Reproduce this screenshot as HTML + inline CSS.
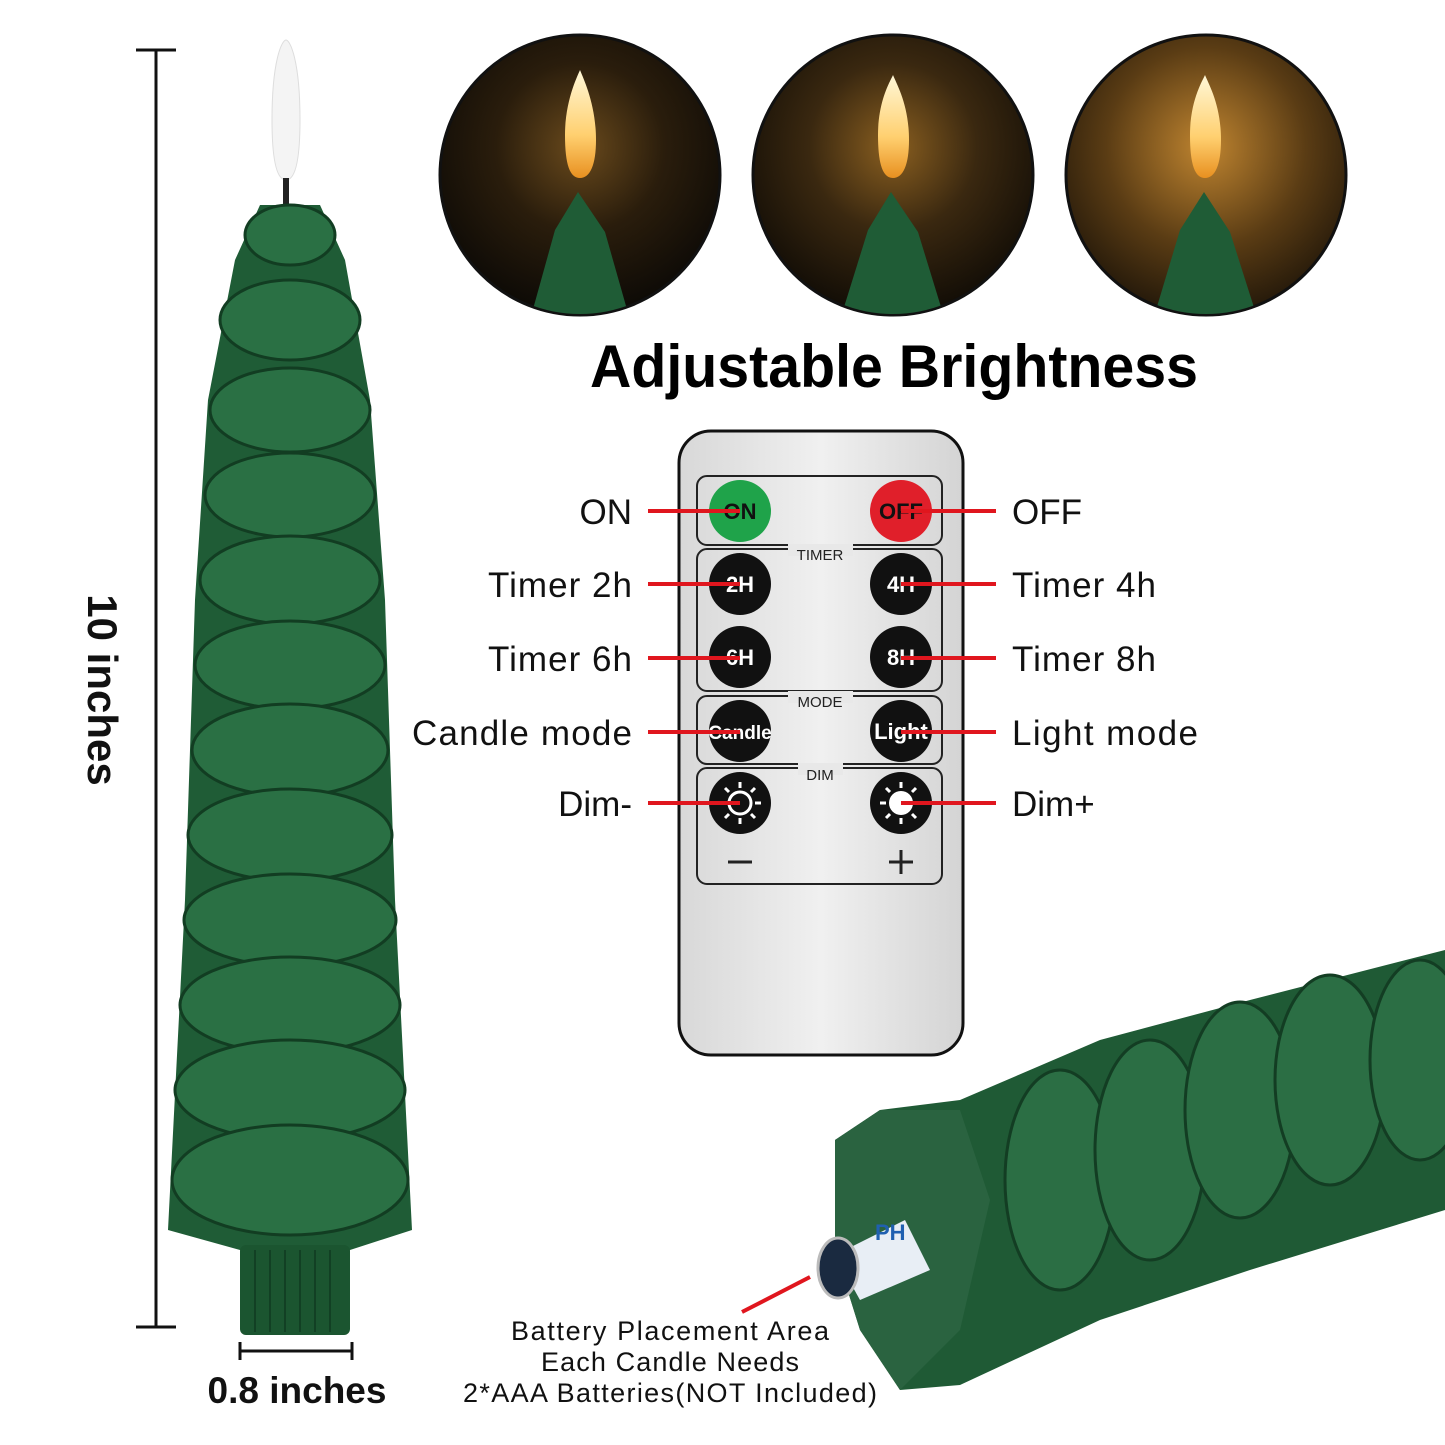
<!DOCTYPE html>
<html><head><meta charset="utf-8"><style>
html,body{margin:0;padding:0;background:#fff;}
svg{display:block;}
</style></head><body>
<svg width="1445" height="1445" viewBox="0 0 1445 1445" xmlns="http://www.w3.org/2000/svg" font-family="Liberation Sans, sans-serif">
<defs>
<radialGradient id="glow1" cx="50%" cy="40%" r="60%"><stop offset="0" stop-color="#6a4a1c"/><stop offset="0.5" stop-color="#2a1d0c"/><stop offset="1" stop-color="#0d0a06"/></radialGradient>
<radialGradient id="glow2" cx="50%" cy="40%" r="60%"><stop offset="0" stop-color="#8a5f20"/><stop offset="0.5" stop-color="#3a2810"/><stop offset="1" stop-color="#120d06"/></radialGradient>
<radialGradient id="glow3" cx="50%" cy="40%" r="65%"><stop offset="0" stop-color="#c08530"/><stop offset="0.55" stop-color="#5a3c14"/><stop offset="1" stop-color="#1a1208"/></radialGradient>
<linearGradient id="remote" x1="0" x2="1"><stop offset="0" stop-color="#d8d8d8"/><stop offset="0.5" stop-color="#f0f0f0"/><stop offset="1" stop-color="#d4d4d4"/></linearGradient>
<linearGradient id="flame" x1="0" y1="0" x2="0" y2="1"><stop offset="0" stop-color="#fff8d8"/><stop offset="0.6" stop-color="#ffd070"/><stop offset="1" stop-color="#e89020"/></linearGradient>
<clipPath id="c1"><circle cx="580" cy="175" r="139"/></clipPath>
<clipPath id="c2"><circle cx="893" cy="175" r="139"/></clipPath>
<clipPath id="c3"><circle cx="1206" cy="175" r="139"/></clipPath>
</defs>

<line x1="156" y1="50" x2="156" y2="1327" stroke="#111" stroke-width="3"/>
<line x1="136" y1="50" x2="176" y2="50" stroke="#111" stroke-width="3"/>
<line x1="136" y1="1327" x2="176" y2="1327" stroke="#111" stroke-width="3"/>
<text x="0" y="0" transform="translate(88,690) rotate(90)" text-anchor="middle" font-size="42" font-weight="bold" fill="#111">10 inches</text>

<path d="M272,120 C272,60 282,40 286,40 C290,40 300,60 300,120 C300,165 294,180 286,180 C278,180 272,165 272,120Z" fill="#f4f4f4" stroke="#ddd"/>
<rect x="283" y="178" width="6" height="26" fill="#222"/>
<path d="M260,205 L320,205 L345,260 L370,400 L385,600 L395,900 L412,1230 L350,1250 L240,1250 L168,1230 L185,900 L195,600 L208,400 L235,260Z" fill="#1f5c36"/>
<g fill="#2a7044" stroke="#123d22" stroke-width="3">
<ellipse cx="290" cy="235" rx="45" ry="30"/>
<ellipse cx="290" cy="320" rx="70" ry="40"/>
<ellipse cx="290" cy="410" rx="80" ry="42"/>
<ellipse cx="290" cy="495" rx="85" ry="42"/>
<ellipse cx="290" cy="580" rx="90" ry="44"/>
<ellipse cx="290" cy="665" rx="95" ry="44"/>
<ellipse cx="290" cy="750" rx="98" ry="46"/>
<ellipse cx="290" cy="835" rx="102" ry="46"/>
<ellipse cx="290" cy="920" rx="106" ry="46"/>
<ellipse cx="290" cy="1005" rx="110" ry="48"/>
<ellipse cx="290" cy="1090" rx="115" ry="50"/>
<ellipse cx="290" cy="1180" rx="118" ry="55"/>
</g>
<rect x="240" y="1245" width="110" height="90" rx="6" fill="#1b5530"/>
<g stroke="#124024" stroke-width="2">
<line x1="255" y1="1250" x2="255" y2="1332"/><line x1="270" y1="1250" x2="270" y2="1332"/><line x1="285" y1="1250" x2="285" y2="1332"/><line x1="300" y1="1250" x2="300" y2="1332"/><line x1="315" y1="1250" x2="315" y2="1332"/><line x1="330" y1="1250" x2="330" y2="1332"/>
</g>

<line x1="240" y1="1351" x2="352" y2="1351" stroke="#111" stroke-width="3"/>
<line x1="240" y1="1342" x2="240" y2="1360" stroke="#111" stroke-width="3"/>
<line x1="352" y1="1342" x2="352" y2="1360" stroke="#111" stroke-width="3"/>
<text x="297" y="1403" text-anchor="middle" font-size="37" font-weight="bold" fill="#111">0.8 inches</text>

<g>
<circle cx="580" cy="175" r="140" fill="url(#glow1)" stroke="#111" stroke-width="3"/>
<g clip-path="url(#c1)">
<path d="M565,135 C565,100 578,75 580,70 C584,80 596,105 596,140 C596,165 590,178 580,178 C570,178 565,165 565,135Z" fill="url(#flame)"/>
<path d="M530,320 L555,230 L578,192 L605,232 L630,320Z" fill="#1f5c36"/>
</g>
<circle cx="893" cy="175" r="140" fill="url(#glow2)" stroke="#111" stroke-width="3"/>
<g clip-path="url(#c2)">
<path d="M878,135 C878,100 891,80 893,75 C897,85 909,105 909,140 C909,165 903,178 893,178 C883,178 878,165 878,135Z" fill="url(#flame)"/>
<path d="M840,320 L868,230 L891,192 L918,232 L945,320Z" fill="#1f5c36"/>
</g>
<circle cx="1206" cy="175" r="140" fill="url(#glow3)" stroke="#111" stroke-width="3"/>
<g clip-path="url(#c3)">
<path d="M1190,135 C1190,100 1203,80 1205,75 C1209,85 1221,105 1221,140 C1221,165 1215,178 1205,178 C1195,178 1190,165 1190,135Z" fill="url(#flame)"/>
<path d="M1153,320 L1180,230 L1204,192 L1230,232 L1258,320Z" fill="#1f5c36"/>
</g>
</g>

<text x="590" y="387" font-size="60" font-weight="bold" fill="#000" textLength="608" lengthAdjust="spacingAndGlyphs">Adjustable Brightness</text>

<rect x="679" y="431" width="284" height="624" rx="32" fill="url(#remote)" stroke="#111" stroke-width="3"/>
<g fill="none" stroke="#222" stroke-width="2">
<rect x="697" y="476" width="245" height="69" rx="10"/>
<rect x="697" y="549" width="245" height="142" rx="10"/>
<rect x="697" y="696" width="245" height="68" rx="10"/>
<rect x="697" y="768" width="245" height="116" rx="10"/>
</g>
<g font-size="15" text-anchor="middle" fill="#222">
<rect x="788" y="544" width="65" height="12" fill="#e8e8e8"/><text x="820" y="560">TIMER</text>
<rect x="788" y="691" width="65" height="12" fill="#e8e8e8"/><text x="820" y="707">MODE</text>
<rect x="798" y="763" width="45" height="12" fill="#e8e8e8"/><text x="820" y="780">DIM</text>
</g>
<circle cx="740" cy="511" r="31" fill="#1fa34a"/>
<circle cx="901" cy="511" r="31" fill="#e01f2a"/>
<g fill="#111"><circle cx="740" cy="584" r="31"/><circle cx="901" cy="584" r="31"/><circle cx="740" cy="657" r="31"/><circle cx="901" cy="657" r="31"/><circle cx="740" cy="731" r="31"/><circle cx="901" cy="731" r="31"/><circle cx="740" cy="803" r="31"/><circle cx="901" cy="803" r="31"/></g>
<g font-size="22" text-anchor="middle" font-weight="bold">
<text x="740" y="519" fill="#111">ON</text><text x="901" y="519" fill="#111">OFF</text>
<text x="740" y="592" fill="#fff">2H</text><text x="901" y="592" fill="#fff">4H</text>
<text x="740" y="665" fill="#fff">6H</text><text x="901" y="665" fill="#fff">8H</text>
<text x="740" y="739" fill="#fff" font-size="19">Candle</text><text x="901" y="739" fill="#fff">Light</text>
</g>
<g stroke="#fff" stroke-width="3" fill="none">
<circle cx="740" cy="803" r="11"/>
<path d="M740,782v6M740,818v6M719,803h6M755,803h6M725,788l4,4M751,814l4,4M725,818l4,-4M751,792l4,-4"/>
</g>
<circle cx="901" cy="803" r="12" fill="#fff"/>
<path d="M901,782v6M901,818v6M880,803h6M916,803h6M886,788l4,4M912,814l4,4M886,818l4,-4M912,792l4,-4" stroke="#fff" stroke-width="3"/>
<g stroke="#222" stroke-width="3"><line x1="728" y1="862" x2="752" y2="862"/><line x1="889" y1="862" x2="913" y2="862"/><line x1="901" y1="850" x2="901" y2="874"/></g>

<g stroke="#e0161e" stroke-width="4">
<line x1="648" y1="511" x2="740" y2="511"/><line x1="901" y1="511" x2="996" y2="511"/>
<line x1="648" y1="584" x2="740" y2="584"/><line x1="901" y1="584" x2="996" y2="584"/>
<line x1="648" y1="658" x2="740" y2="658"/><line x1="901" y1="658" x2="996" y2="658"/>
<line x1="648" y1="732" x2="740" y2="732"/><line x1="901" y1="732" x2="996" y2="732"/>
<line x1="648" y1="803" x2="740" y2="803"/><line x1="901" y1="803" x2="996" y2="803"/>
<line x1="742" y1="1312" x2="810" y2="1277"/>
</g>
<g font-size="35" fill="#111">
<text x="632" y="524" text-anchor="end">ON</text><text x="1012" y="524">OFF</text>
<text x="632" y="597" text-anchor="end" textLength="144">Timer 2h</text><text x="1012" y="597" textLength="144">Timer 4h</text>
<text x="632" y="671" text-anchor="end" textLength="144">Timer 6h</text><text x="1012" y="671" textLength="144">Timer 8h</text>
<text x="632" y="745" text-anchor="end" textLength="220">Candle mode</text><text x="1012" y="745" textLength="186">Light mode</text>
<text x="632" y="816" text-anchor="end">Dim-</text><text x="1012" y="816">Dim+</text>
</g>

<path d="M835,1140 L880,1110 L960,1100 L1100,1040 L1250,1000 L1445,950 L1445,1210 L1380,1230 L1250,1270 L1100,1320 L960,1385 L900,1390 L860,1330 L835,1250Z" fill="#1f5a35"/>
<g fill="#2b6e44" stroke="#133d23" stroke-width="3">
<ellipse cx="1060" cy="1180" rx="55" ry="110"/>
<ellipse cx="1150" cy="1150" rx="55" ry="110"/>
<ellipse cx="1240" cy="1110" rx="55" ry="108"/>
<ellipse cx="1330" cy="1080" rx="55" ry="105"/>
<ellipse cx="1420" cy="1060" rx="50" ry="100"/>
</g>
<path d="M835,1140 L880,1110 L960,1110 L990,1200 L960,1330 L900,1390 L860,1330 L835,1250Z" fill="#2a6340"/>
<path d="M835,1255 L905,1220 L930,1270 L860,1300Z" fill="#e8eef5"/>
<ellipse cx="838" cy="1268" rx="20" ry="30" fill="#1a2a40" stroke="#bbb" stroke-width="3"/>
<text x="875" y="1240" font-size="22" font-weight="bold" fill="#2060b0">PH</text>

<g font-size="27" fill="#111" text-anchor="middle">
<text x="670" y="1340" textLength="318">Battery Placement Area</text>
<text x="670" y="1371" textLength="258">Each Candle Needs</text>
<text x="670" y="1402" textLength="414">2*AAA Batteries(NOT Included)</text>
</g>
</svg>
</body></html>
